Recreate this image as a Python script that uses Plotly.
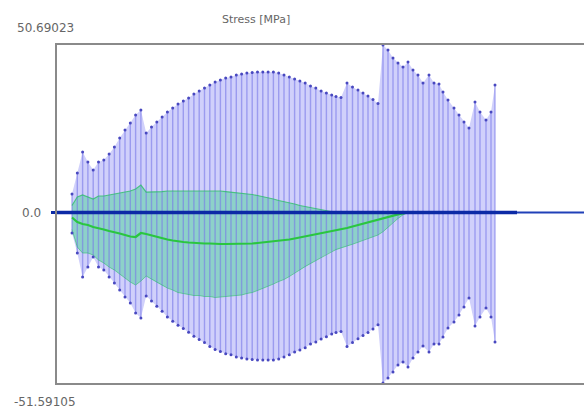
import plotly.graph_objects as go

# Station positions along the member (plot units)
positions = [15, 20.3, 25.6, 30.9, 36.2, 41.5, 46.8, 52.1, 57.4, 62.7, 68, 73.3, 78.6, 83.9,
             89.2, 94.5, 99.8, 105.1, 110.4, 115.7, 121, 126.3, 131.6, 136.9, 142.2, 147.5,
             152.8, 158.1, 163.4, 168.7, 174, 179.3, 184.6, 189.9, 195.2, 200.5, 205.8, 211.1,
             216.4, 221.7, 227, 232.3, 237.6, 242.9, 248.2, 253.5, 258.8, 264.1, 269.4, 274.7,
             279, 284, 290, 295.5, 301, 306, 311, 316, 321,
             326, 331, 336, 341, 346, 351, 356, 361, 366, 372, 377, 382, 386, 391, 397, 402,
             407, 412, 418, 423, 429, 434, 438]

# Envelope of stress [MPa]
stress_max = [5.60, 11.95, 18.31, 15.28, 12.86, 15.28, 15.89, 17.70, 19.82, 22.54, 24.96, 27.08,
              29.50, 31.02, 24.06, 25.87, 27.39, 28.90, 30.41, 31.62, 32.83, 33.74, 34.65, 35.86,
              36.77, 37.67, 38.58, 39.49, 40.09, 40.70, 41.00, 41.61, 41.91, 42.21, 42.36, 42.52,
              42.52, 42.52, 42.52, 42.21, 41.61, 41.00, 40.40, 39.79, 39.19, 38.28, 37.67, 36.77,
              36.16, 35.56, 35.10, 34.80, 39.19, 37.98, 37.07, 36.16, 35.25, 34.19, 32.98,
              50.69023, 49.17, 46.75, 45.24, 44.03, 45.54, 43.12, 41.61, 39.19, 41.61, 39.19,
              38.90, 36.46, 34.04, 31.62, 29.50, 27.39, 25.57, 33.44, 30.41, 27.99, 30.41, 38.58]

stress_min = [-6.20, -12.26, -19.52, -16.49, -13.47, -16.49, -17.40, -19.52, -21.33, -23.45,
              -25.57, -27.39, -30.39, -31.92, -25.30, -26.78, -28.35, -29.91, -31.63, -32.88,
              -34.14, -35.09, -36.21, -37.47, -38.42, -39.37, -40.51, -41.46, -42.09, -42.74,
              -43.05, -43.69, -44.01, -44.32, -44.48, -44.65, -44.65, -44.65, -44.65, -44.32,
              -43.69, -43.05, -42.22, -41.58, -40.95, -39.81, -39.18, -38.24, -37.61, -36.80,
              -36.33, -36.02, -40.56, -39.31, -38.18, -37.24, -36.31, -35.22, -33.97,
              -51.59105, -50.08, -48.26, -46.15, -45.24, -46.75, -44.03, -42.21, -40.40, -42.21,
              -39.79, -39.79, -37.67, -34.95, -33.13, -31.02, -28.60, -25.87, -34.35, -31.62,
              -28.90, -31.62, -39.19]

# Second load case (green) upper, mean, lower for the first 65 stations
green_upper = [2.12, 4.69, 5.30, 4.69, 4.09, 4.99, 4.99, 5.30, 5.60, 5.90, 6.20, 6.51, 7.11, 8.32,
               6.20, 6.20, 6.35, 6.35, 6.51, 6.51,
               6.66, 6.66, 6.66, 6.66, 6.66, 6.66, 6.66, 6.66,
               6.51, 6.35, 6.20, 6.05, 5.90, 5.75, 5.45, 5.14, 4.84, 4.54, 4.09, 3.63, 3.33, 3.03,
               2.57, 2.12, 1.82, 1.51, 1.21, 0.91, 0.61, 0.30,
               0.0, 0, 0, 0, 0, 0, 0, 0, 0, 0, 0, 0, 0, 0, 0]
green_mean = [-1.51, -2.87, -3.48, -3.78, -4.39, -4.69, -5.14, -5.60, -5.90, -6.35, -6.81, -7.26,
              -7.41, -6.20, -6.51, -6.96, -7.41, -7.87, -8.17, -8.47,
              -8.78, -8.93, -9.08, -9.23, -9.23, -9.38, -9.38, -9.53,
              -9.53, -9.53, -9.53, -9.53, -9.53, -9.38, -9.38, -9.23, -9.08, -8.93, -8.78, -8.62,
              -8.47, -8.17, -7.87, -7.57, -7.26, -6.96, -6.66, -6.35, -6.05, -5.75,
              -5.45, -5.14, -4.69, -4.24, -3.78, -3.33, -2.87, -2.42, -2.00, -1.70, -1.30, -0.90,
              -0.55, -0.25, 0.0]
green_lower = [-5.14, -10.44, -12.26, -12.26, -12.86, -14.37, -15.28, -16.49, -17.40, -18.61,
               -19.82, -21.03, -21.94, -20.73, -19.22, -20.12, -21.18, -22.09, -22.85, -23.45,
               -24.21, -24.51, -24.81, -25.12, -25.12, -25.42, -25.42, -25.72,
               -25.57, -25.42, -25.27, -25.12, -24.96, -24.51, -24.21, -23.60, -23.00, -22.39,
               -21.64, -20.88, -20.27, -19.37, -18.31, -17.25, -16.34, -15.43, -14.52, -13.62,
               -12.71, -11.80,
               -11.2, -10.7, -10.2, -9.6, -9.0, -8.5, -8.0, -7.4, -6.8, -5.8, -4.5, -3.0, -1.8,
               -0.7, 0.0]

beam = [-2, 460]
x_range = [0, 527]
y_range = [-51.59105, 50.69023]
title_text = "Stress [MPa]"

ng = len(green_upper)
gpos = positions[:ng]

fig = go.Figure()

# lavender envelope
fig.add_trace(go.Scatter(x=positions + positions[::-1], y=stress_max + stress_min[::-1],
                         fill="toself", fillcolor="#d0d0fb", line=dict(width=0),
                         mode="lines", hoverinfo="skip"))

# green band
fig.add_trace(go.Scatter(x=gpos + gpos[::-1], y=green_upper + green_lower[::-1],
                         fill="toself", fillcolor="rgba(60,210,140,0.45)", line=dict(width=0),
                         mode="lines", hoverinfo="skip"))

# vertical lines
vx, vy = [], []
for p, a, b in zip(positions, stress_max, stress_min):
    vx += [p, p, None]
    vy += [a, b, None]
fig.add_trace(go.Scatter(x=vx, y=vy, mode="lines",
                         line=dict(color="rgba(120,120,232,0.6)", width=1.4), hoverinfo="skip"))

# green edges
fig.add_trace(go.Scatter(x=gpos, y=green_upper, mode="lines",
                         line=dict(color="rgba(40,190,100,0.75)", width=1.2)))
fig.add_trace(go.Scatter(x=gpos, y=green_lower, mode="lines",
                         line=dict(color="rgba(40,190,100,0.55)", width=1)))

# mean green line
fig.add_trace(go.Scatter(x=gpos, y=green_mean, mode="lines",
                         line=dict(color="#2ac640", width=2.2)))

# zero axis line
fig.add_trace(go.Scatter(x=x_range, y=[0, 0], mode="lines",
                         line=dict(color="#2040b8", width=2)))
fig.add_trace(go.Scatter(x=beam, y=[0, 0], mode="lines",
                         line=dict(color="#0c2aa6", width=3.6)))

# end dots
fig.add_trace(go.Scatter(x=positions + positions, y=stress_max + stress_min, mode="markers",
                         marker=dict(color="#4848c0", size=3)))

fig.update_layout(
    width=584, height=408, autosize=False,
    margin=dict(l=57, r=0, t=45, b=25),
    paper_bgcolor="white", plot_bgcolor="white",
    showlegend=False,
    font=dict(family="DejaVu Sans", color="#666666"),
    xaxis=dict(range=x_range, showgrid=False, zeroline=False, showticklabels=False,
               ticks="", showline=True, mirror=True, linecolor="#8a8a8a", linewidth=2),
    yaxis=dict(range=y_range, showgrid=False, zeroline=False, showticklabels=False,
               tickvals=[0], ticks="outside", ticklen=4, tickwidth=3, tickcolor="#0c2aa6",
               showline=True, mirror=False, linecolor="#8a8a8a", linewidth=2),
    annotations=[
        dict(text=title_text, xref="paper", yref="paper", x=0.378, y=1.074,
             xanchor="center", yanchor="middle",
             showarrow=False, font=dict(size=11, color="#666666")),
        dict(text="50.69023", xref="paper", yref="paper", x=-0.08, y=1.05,
             xanchor="left", yanchor="middle",
             showarrow=False, font=dict(size=12, color="#666666")),
        dict(text="-51.59105", xref="paper", yref="paper", x=-0.086, y=-0.056,
             xanchor="left", yanchor="middle",
             showarrow=False, font=dict(size=12, color="#666666")),
        dict(text="0.0", xref="paper", yref="y", x=-0.026, y=0,
             xanchor="right", yanchor="middle",
             showarrow=False, font=dict(size=12, color="#666666")),
    ],
)

fig.write_html("out.html", config={"displayModeBar": False},
               post_script="document.body.style.margin='0';")
